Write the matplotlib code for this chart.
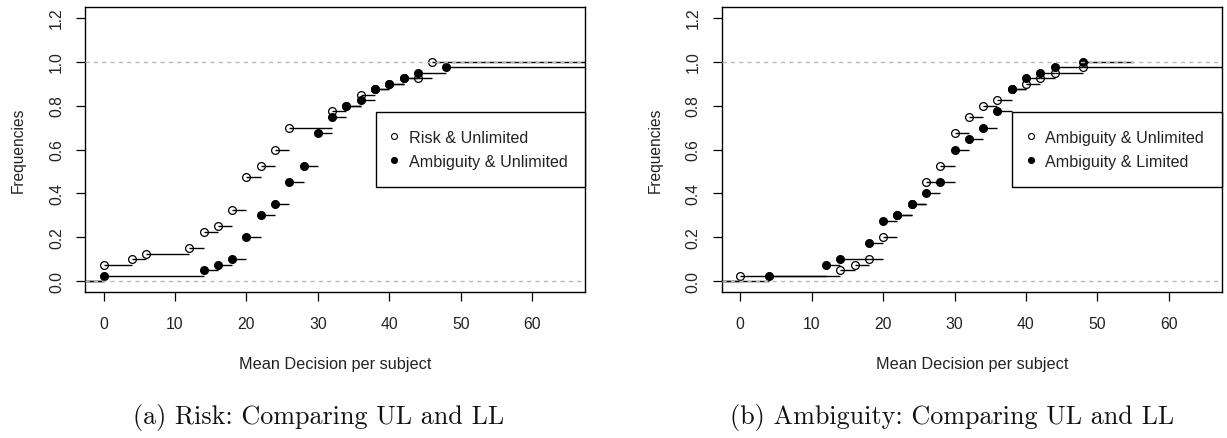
import matplotlib
matplotlib.use("Agg")
import matplotlib.pyplot as plt

plt.rcParams["font.family"] = ["Liberation Sans", "DejaVu Sans"]

# ---- data: step frequencies per mean decision ----
risk_unl_x = [0, 4, 6, 12, 14, 16, 18, 20, 22, 24, 26, 32, 34, 36, 38, 40, 42, 44, 46]
risk_unl_y = [0.075, 0.1, 0.125, 0.15, 0.225, 0.25, 0.325, 0.475, 0.525, 0.6,
              0.7, 0.775, 0.8, 0.85, 0.875, 0.9, 0.925, 0.925, 1.0]

amb_unl_x = [0, 14, 16, 18, 20, 22, 24, 26, 28, 30, 32, 34, 36, 38, 40, 42, 44, 48]
amb_unl_y = [0.025, 0.05, 0.075, 0.1, 0.2, 0.3, 0.35, 0.45, 0.525, 0.675,
             0.75, 0.8, 0.825, 0.875, 0.9, 0.925, 0.95, 0.975]

amb_lim_x = [4, 12, 14, 18, 20, 22, 24, 26, 28, 30, 32, 34, 36, 38, 40, 42, 44, 48]
amb_lim_y = [0.025, 0.075, 0.1, 0.175, 0.275, 0.3, 0.35, 0.4, 0.45, 0.6,
             0.65, 0.7, 0.775, 0.875, 0.925, 0.95, 0.975, 1.0]
amb_lim_end = 55.0  # last step of the added series stops short of the frame

x_ticks = [0, 10, 20, 30, 40, 50, 60]
y_ticks = [0.0, 0.2, 0.4, 0.6, 0.8, 1.0, 1.2]
y_tick_labels = ["0.0", "0.2", "0.4", "0.6", "0.8", "1.0", "1.2"]

legend_a = ["Risk & Unlimited", "Ambiguity & Unlimited"]
legend_b = ["Ambiguity & Unlimited", "Ambiguity & Limited"]
captions = ["(a) Risk: Comparing UL and LL", "(b) Ambiguity: Comparing UL and LL"]

XLIM = (-2.6, 67.4)
YLIM = (-0.048, 1.248)

W, H = 1227, 439
fig = plt.figure(figsize=(W / 100, H / 100), dpi=100)
ax_a = fig.add_axes([85 / W, (H - 293) / H, 500 / W, 285 / H])
ax_b = fig.add_axes([721.7 / W, (H - 293) / H, 500 / W, 285 / H])


def draw_steps(ax, xs, ys, filled, x_end):
    starts = [XLIM[0]] + list(xs)
    ends = list(xs) + [x_end]
    levels = [0.0] + list(ys)
    ax.hlines(levels, starts, ends, colors="black", lw=1.0, zorder=2)
    ax.plot(xs, ys, linestyle="none", marker="o", ms=5.6,
            mfc="black" if filled else "none", mec="black", mew=0.9,
            zorder=3, label="_nolegend_")


def style_axes(ax, labels):
    ax.set_xlim(*XLIM)
    ax.set_ylim(*YLIM)
    for y0 in (0.0, 1.0):
        ax.axhline(y0, color="#b8b8b8", lw=1.0, ls=(0, (3, 3)), zorder=4)
    for sp in ax.spines.values():
        sp.set_color("black")
        sp.set_linewidth(1.0)
    ax.set_xticks(x_ticks)
    ax.set_xticklabels([str(t) for t in x_ticks], fontsize=11.3)
    ax.set_yticks(y_ticks)
    ax.set_yticklabels(y_tick_labels, rotation=90, va="center", fontsize=11.3)
    ax.tick_params(axis="both", direction="out", length=6.5, width=0.9,
                   color="black", labelcolor="#222222")
    ax.tick_params(axis="x", pad=11)
    ax.tick_params(axis="y", pad=8.5)
    ax.set_xlabel("Mean Decision per subject", fontsize=11.7, color="#222222")
    ax.xaxis.set_label_coords(0.5, -0.225)
    ax.set_ylabel("Frequencies", fontsize=11.2, color="#222222")
    ax.yaxis.set_label_coords(-0.118, 0.5)

    handles = [
        plt.Line2D([], [], linestyle="none", marker="o", ms=4.3, mfc="none",
                   mec="black", mew=0.8),
        plt.Line2D([], [], linestyle="none", marker="o", ms=4.3, mfc="black",
                   mec="black", mew=0.8),
    ]
    leg = ax.legend(handles, labels, loc="center right", bbox_to_anchor=(1.0, 0.5),
                    borderaxespad=0.0, fontsize=11.6, frameon=True, fancybox=False,
                    framealpha=1.0, edgecolor="black", borderpad=1.1,
                    handlelength=0.1, handletextpad=0.85, labelspacing=0.55,
                    numpoints=1)
    leg.get_frame().set_linewidth(1.0)
    for t in leg.get_texts():
        t.set_color("#222222")


# (a) risk vs ambiguity, both unlimited
draw_steps(ax_a, risk_unl_x, risk_unl_y, filled=False, x_end=XLIM[1])
draw_steps(ax_a, amb_unl_x, amb_unl_y, filled=True, x_end=XLIM[1])
style_axes(ax_a, legend_a)

# (b) ambiguity: unlimited vs limited
draw_steps(ax_b, amb_unl_x, amb_unl_y, filled=False, x_end=XLIM[1])
draw_steps(ax_b, amb_lim_x, amb_lim_y, filled=True, x_end=amb_lim_end)
style_axes(ax_b, legend_b)

fig.text(319 / W, 1 - 418 / H, captions[0], ha="center", va="center",
         family="cmr10", fontsize=18.8, color="#111111")
fig.text(952 / W, 1 - 418 / H, captions[1], ha="center", va="center",
         family="cmr10", fontsize=18.8, color="#111111")

fig.savefig("out.png", dpi=100)
